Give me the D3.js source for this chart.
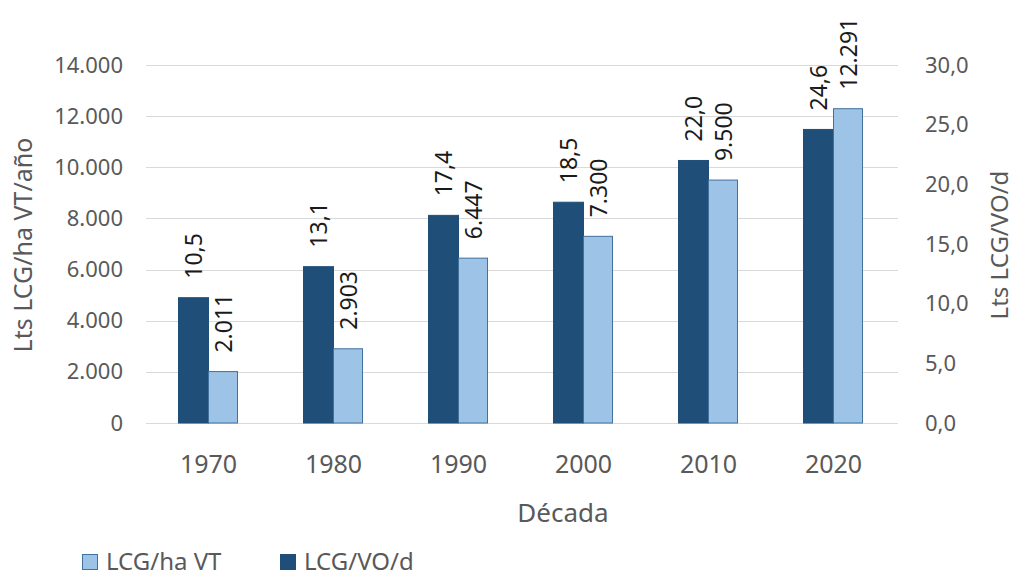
<!DOCTYPE html>
<html>
<head>
<meta charset="utf-8">
<script src="https://cdn.jsdelivr.net/npm/d3@7"></script>
<style>
  html, body { margin: 0; padding: 0; background: #fff; }
  svg { display: block; font-family: "Noto Sans", "Open Sans", sans-serif; }
</style>
</head>
<body>
<svg id="chart" width="1018" height="577"></svg>
<script>
// Decades on the category axis
const decades = ["1970", "1980", "1990", "2000", "2010", "2020"];
// Litres of fuel per hectare of total vineyard per year (left axis)
const lcgHaVT = [2011, 2903, 6447, 7300, 9500, 12291];
// Litres of fuel per vineyard worker per day (right axis)
const lcgVOd = [10.5, 13.1, 17.4, 18.5, 22.0, 24.6];
// Axis ticks
const leftTicks = [0, 2000, 4000, 6000, 8000, 10000, 12000, 14000];
const rightTicks = [0, 5, 10, 15, 20, 25, 30];
// Series names
const seriesNames = { ha: "LCG/ha VT", vo: "LCG/VO/d" };

const colors = { vo: "#1f4e79", voStroke: "#1f4e79", ha: "#9dc3e6", haStroke: "#41719c" };

const es = d3.formatLocale({ decimal: ",", thousands: ".", grouping: [3], currency: ["", " €"] });
const fmtThousands = es.format(",.0f");
const fmtOneDec = es.format(",.1f");

const svg = d3.select("#chart");
const plot = { left: 146, right: 898, top: 65, bottom: 423 };

const x = d3.scaleBand().domain(decades)
  .range([plot.left, plot.left + 750])
  .paddingInner(0.52).paddingOuter(0.26);
const xSub = d3.scaleBand().domain(["vo", "ha"]).range([0, x.bandwidth()]);
const yL = d3.scaleLinear().domain([0, 14000]).range([plot.bottom, plot.top]);
const yR = d3.scaleLinear().domain([0, 30]).range([plot.bottom, plot.top]);

// Gridlines
svg.append("g").selectAll("line").data(leftTicks).join("line")
  .attr("x1", plot.left).attr("x2", plot.right)
  .attr("y1", d => Math.round(yL(d)) + 0.5).attr("y2", d => Math.round(yL(d)) + 0.5)
  .attr("stroke", "#d9d9d9").attr("stroke-width", 1);

// Left axis
const leftAxis = svg.append("g").attr("transform", `translate(${plot.left - 23},0)`)
  .call(d3.axisLeft(yL).tickValues(leftTicks).tickFormat(fmtThousands).tickSize(0).tickPadding(0));
leftAxis.select(".domain").remove();
leftAxis.selectAll("text").attr("font-size", 22).attr("fill", "#595959")
  .attr("font-family", "'Noto Sans', sans-serif");

// Right axis
const rightAxis = svg.append("g").attr("transform", `translate(${plot.right + 27},0)`)
  .call(d3.axisRight(yR).tickValues(rightTicks).tickFormat(fmtOneDec).tickSize(0).tickPadding(0));
rightAxis.select(".domain").remove();
rightAxis.selectAll("text").attr("font-size", 22).attr("fill", "#595959")
  .attr("font-family", "'Noto Sans', sans-serif");

// Category axis
const bottomAxis = svg.append("g").attr("transform", `translate(0,${plot.bottom + 50})`)
  .call(d3.axisBottom(x).tickSize(0).tickPadding(0));
bottomAxis.select(".domain").remove();
bottomAxis.selectAll("text").attr("font-size", 25).attr("fill", "#595959")
  .attr("dy", 0).attr("font-family", "'Noto Sans', sans-serif");

// Bars
const rows = decades.map((d, i) => ({ decade: d, ha: lcgHaVT[i], vo: lcgVOd[i] }));
const groups = svg.append("g").selectAll("g").data(rows).join("g")
  .attr("transform", d => `translate(${x(d.decade)},0)`);

groups.append("rect")
  .attr("x", xSub("vo")).attr("width", xSub.bandwidth())
  .attr("y", d => yR(d.vo)).attr("height", d => yR(0) - yR(d.vo))
  .attr("fill", colors.vo).attr("stroke", colors.voStroke).attr("stroke-width", 1);

groups.append("rect")
  .attr("x", xSub("ha")).attr("width", xSub.bandwidth() - 1)
  .attr("y", d => yL(d.ha)).attr("height", d => yL(0) - yL(d.ha))
  .attr("fill", colors.ha).attr("stroke", colors.haStroke).attr("stroke-width", 1);

// Value labels, rotated
function valueLabel(sel, key, scale, fmt) {
  sel.append("text")
    .attr("transform", d => `translate(${xSub(key) + xSub.bandwidth() / 2},${scale(d[key]) - 19}) rotate(-90)`)
    .attr("dy", "0.35em")
    .attr("font-size", 23).attr("fill", "#1a1a1a")
    .text(d => fmt(d[key]));
}
valueLabel(groups, "vo", yR, fmtOneDec);
valueLabel(groups, "ha", yL, fmtThousands);

// Axis titles
svg.append("text")
  .attr("transform", `translate(23,245) rotate(-90)`)
  .attr("text-anchor", "middle").attr("dy", "0.35em")
  .attr("font-size", 25).attr("fill", "#595959")
  .text("Lts LCG/ha VT/año");
svg.append("text")
  .attr("transform", `translate(1000,245) rotate(-90)`)
  .attr("text-anchor", "middle").attr("dy", "0.35em")
  .attr("font-size", 24).attr("fill", "#595959")
  .text("Lts LCG/VO/d");
svg.append("text")
  .attr("x", 563).attr("y", 522)
  .attr("text-anchor", "middle")
  .attr("font-size", 26).attr("fill", "#595959")
  .text("Década");

// Legend
const legendItems = [
  { key: "ha", x: 82, fill: colors.ha, stroke: colors.haStroke },
  { key: "vo", x: 280, fill: colors.vo, stroke: colors.voStroke }
];
const legend = svg.append("g").selectAll("g").data(legendItems).join("g")
  .attr("transform", d => `translate(${d.x},554)`);
legend.append("rect").attr("x", 0.5).attr("y", 0.5).attr("width", 15).attr("height", 15)
  .attr("fill", d => d.fill).attr("stroke", d => d.stroke);
legend.append("text").attr("x", 24).attr("y", 16)
  .attr("font-size", 24).attr("fill", "#595959")
  .text(d => seriesNames[d.key]);
</script>
</body>
</html>
